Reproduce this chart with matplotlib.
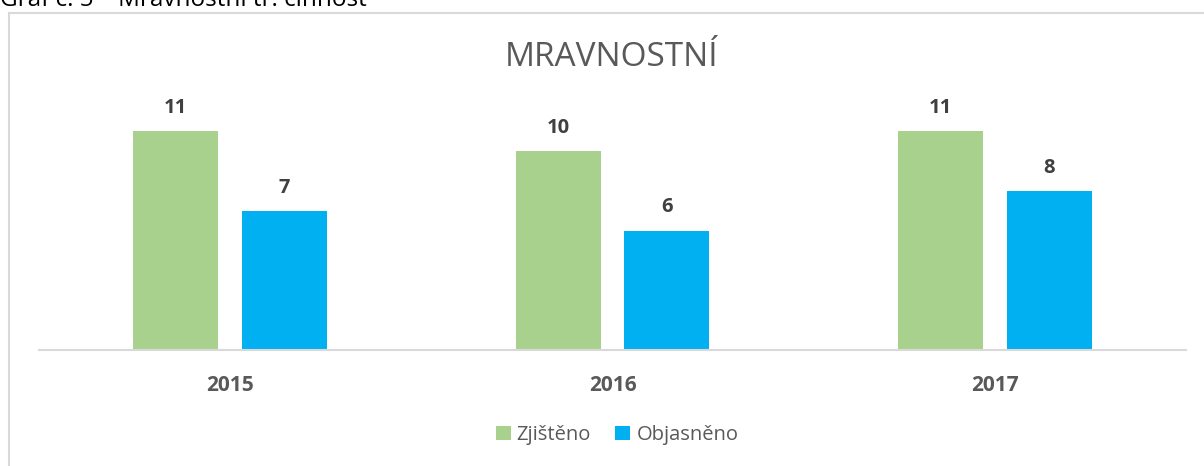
import matplotlib
matplotlib.use("Agg")
import matplotlib.pyplot as plt
import numpy as np

categories = ["2015", "2016", "2017"]
zjisteno = [11, 10, 11]
objasneno = [7, 6, 8]
series_names = ["Zjištěno", "Objasněno"]
title = "MRAVNOSTNÍ"
caption = "Graf č. 5 – Mravnostní tr. činnost"

GREEN = "#A9D18E"
BLUE = "#00B0F0"
TXT = "#595959"
FONT = ["Open Sans", "DejaVu Sans"]

W, H = 1204, 466
fig = plt.figure(figsize=(W / 100, H / 100), dpi=100)
fig.patch.set_facecolor("white")

# outer frame (left and top borders)
fig.add_artist(plt.Line2D([8.5 / W, 8.5 / W], [0, 1 - 12.5 / H], color="#D9D9D9", lw=1.5, transform=fig.transFigure))
fig.add_artist(plt.Line2D([8.5 / W, 1], [1 - 12.5 / H, 1 - 12.5 / H], color="#D9D9D9", lw=1.5, transform=fig.transFigure))

# caption partly cut at the top edge, as in the reference
fig.text(0.0, 1 - 6 / H, caption, ha="left", va="baseline", fontsize=17.5, color="black", family=FONT)

left, right = 38.5 / W, 1186.5 / W
bottom, top = 1 - 350 / H, 1 - 111 / H
ax = fig.add_axes([left, bottom, right - left, top - bottom])
ax.set_xlim(-0.5, 2.5)
ax.set_ylim(0, 12)

x = np.arange(len(categories))
bw = 0.222
off = 0.142
b1 = ax.bar(x - off, zjisteno, bw, color=GREEN, label=series_names[0], zorder=2)
b2 = ax.bar(x + off, objasneno, bw, color=BLUE, label=series_names[1], zorder=2)

for bars, vals in ((b1, zjisteno), (b2, objasneno)):
    for r, v in zip(bars, vals):
        ax.annotate(str(v), (r.get_x() + r.get_width() / 2, v), xytext=(0, 13),
                    textcoords="offset pixels", ha="center", va="bottom",
                    fontsize=14.5, fontweight="bold", color="#404040", family=FONT)

for s in ["top", "right", "left"]:
    ax.spines[s].set_visible(False)
ax.spines["bottom"].set_color("#D9D9D9")
ax.spines["bottom"].set_linewidth(1.5)
ax.set_yticks([])
ax.set_xticks(x)
ax.set_xticklabels(categories, fontsize=15, fontweight="bold", color=TXT, family=FONT)
ax.tick_params(axis="x", length=0, pad=18)

fig.text(612 / W, 1 - 57 / H, title, ha="center", va="center", fontsize=24, color=TXT, family=FONT)

leg = fig.legend(handles=[b1, b2], labels=series_names, loc="center", bbox_to_anchor=(617 / W, 1 - 435 / H),
                 ncol=2, frameon=False, prop={"family": FONT, "size": 14.5},
                 handlelength=0.75, handleheight=0.75, handletextpad=0.3, columnspacing=1.2, labelcolor=TXT)

fig.savefig("out.png", dpi=100)
